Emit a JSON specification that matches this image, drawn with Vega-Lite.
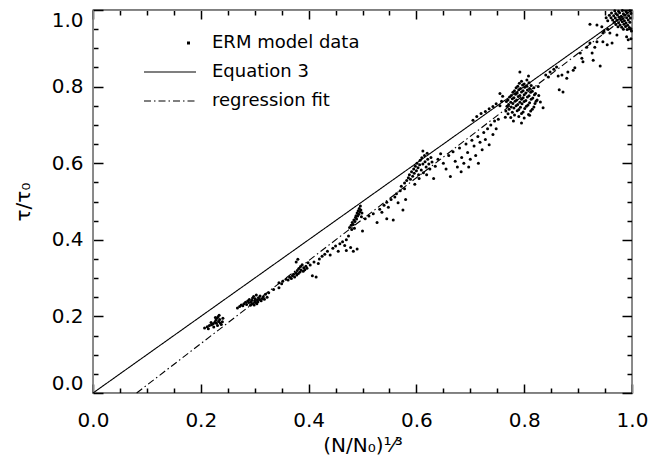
{
  "$schema": "https://vega.github.io/schema/vega-lite/v6.json",
  "width": 539,
  "height": 383,
  "autosize": "none",
  "padding": {"left": 93, "top": 10, "right": 31, "bottom": 65},
  "background": "white",
  "config": {"view": {"stroke": "black", "strokeWidth": 1.3}, "font": "DejaVu Sans"},
  "resolve": {"axis": {"x": "independent", "y": "independent"}},
  "datasets": {
    "pts": [
      {"x":0.207,"y":0.170},{"x":0.212,"y":0.173},{"x":0.216,"y":0.176},{"x":0.214,"y":0.168},{"x":0.220,"y":0.178},{"x":0.223,"y":0.181},{"x":0.226,"y":0.185},{"x":0.228,"y":0.190},{"x":0.230,"y":0.195},{"x":0.232,"y":0.199},{"x":0.229,"y":0.182},{"x":0.233,"y":0.187},{"x":0.235,"y":0.192},{"x":0.231,"y":0.176},{"x":0.236,"y":0.183},{"x":0.238,"y":0.179},{"x":0.240,"y":0.186},{"x":0.234,"y":0.203},{"x":0.227,"y":0.197},{"x":0.224,"y":0.172},{"x":0.219,"y":0.184},{"x":0.241,"y":0.195},
      {"x":0.268,"y":0.222},{"x":0.272,"y":0.226},{"x":0.275,"y":0.230},{"x":0.278,"y":0.228},{"x":0.280,"y":0.233},{"x":0.283,"y":0.237},{"x":0.285,"y":0.231},{"x":0.287,"y":0.240},{"x":0.289,"y":0.236},{"x":0.290,"y":0.244},{"x":0.292,"y":0.229},{"x":0.293,"y":0.238},{"x":0.295,"y":0.242},{"x":0.296,"y":0.248},{"x":0.297,"y":0.234},{"x":0.298,"y":0.252},{"x":0.300,"y":0.240},{"x":0.301,"y":0.246},{"x":0.302,"y":0.236},{"x":0.303,"y":0.256},{"x":0.305,"y":0.243},{"x":0.306,"y":0.238},{"x":0.307,"y":0.249},{"x":0.309,"y":0.244},{"x":0.310,"y":0.253},{"x":0.312,"y":0.241},{"x":0.314,"y":0.247},{"x":0.316,"y":0.251},{"x":0.318,"y":0.245},{"x":0.320,"y":0.258},{"x":0.323,"y":0.250},{"x":0.326,"y":0.262},{"x":0.294,"y":0.232},{"x":0.299,"y":0.230},{"x":0.304,"y":0.233},
      {"x":0.335,"y":0.270},{"x":0.345,"y":0.275},{"x":0.350,"y":0.285},
      {"x":0.345,"y":0.288},{"x":0.352,"y":0.292},{"x":0.358,"y":0.297},{"x":0.362,"y":0.295},{"x":0.365,"y":0.302},{"x":0.368,"y":0.299},{"x":0.370,"y":0.306},{"x":0.372,"y":0.310},{"x":0.374,"y":0.303},{"x":0.376,"y":0.314},{"x":0.378,"y":0.308},{"x":0.379,"y":0.320},{"x":0.381,"y":0.312},{"x":0.382,"y":0.325},{"x":0.384,"y":0.316},{"x":0.385,"y":0.330},{"x":0.386,"y":0.321},{"x":0.388,"y":0.335},{"x":0.390,"y":0.318},{"x":0.391,"y":0.327},{"x":0.393,"y":0.322},{"x":0.395,"y":0.331},{"x":0.397,"y":0.326},{"x":0.399,"y":0.340},{"x":0.403,"y":0.334},{"x":0.407,"y":0.306},{"x":0.410,"y":0.342},{"x":0.414,"y":0.303},{"x":0.418,"y":0.338},{"x":0.377,"y":0.342},{"x":0.380,"y":0.349},
      {"x":0.420,"y":0.350},{"x":0.425,"y":0.357},{"x":0.430,"y":0.362},{"x":0.435,"y":0.370},{"x":0.440,"y":0.360},{"x":0.445,"y":0.378},{"x":0.450,"y":0.384},{"x":0.455,"y":0.370},{"x":0.458,"y":0.390},{"x":0.463,"y":0.395},{"x":0.467,"y":0.385},{"x":0.470,"y":0.400},{"x":0.474,"y":0.410},{"x":0.478,"y":0.380},{"x":0.483,"y":0.370},{"x":0.470,"y":0.372},{"x":0.490,"y":0.376},
      {"x":0.476,"y":0.432},{"x":0.479,"y":0.438},{"x":0.481,"y":0.445},{"x":0.483,"y":0.440},{"x":0.484,"y":0.452},{"x":0.486,"y":0.448},{"x":0.487,"y":0.458},{"x":0.488,"y":0.463},{"x":0.489,"y":0.454},{"x":0.490,"y":0.470},{"x":0.491,"y":0.462},{"x":0.492,"y":0.476},{"x":0.493,"y":0.467},{"x":0.494,"y":0.482},{"x":0.495,"y":0.473},{"x":0.496,"y":0.488},{"x":0.497,"y":0.478},{"x":0.498,"y":0.460},{"x":0.485,"y":0.430},{"x":0.499,"y":0.470},{"x":0.480,"y":0.427},{"x":0.500,"y":0.423},
      {"x":0.505,"y":0.455},{"x":0.512,"y":0.462},{"x":0.520,"y":0.468},{"x":0.527,"y":0.445},{"x":0.532,"y":0.480},{"x":0.536,"y":0.472},{"x":0.540,"y":0.490},{"x":0.545,"y":0.498},{"x":0.548,"y":0.485},{"x":0.553,"y":0.505},{"x":0.557,"y":0.452},{"x":0.560,"y":0.512},{"x":0.563,"y":0.520},{"x":0.566,"y":0.497},{"x":0.570,"y":0.528},{"x":0.572,"y":0.540},{"x":0.575,"y":0.478},{"x":0.578,"y":0.533},{"x":0.580,"y":0.505},{"x":0.545,"y":0.455},
      {"x":0.578,"y":0.548},{"x":0.582,"y":0.555},{"x":0.585,"y":0.562},{"x":0.587,"y":0.570},{"x":0.589,"y":0.558},{"x":0.591,"y":0.578},{"x":0.593,"y":0.566},{"x":0.595,"y":0.585},{"x":0.596,"y":0.574},{"x":0.598,"y":0.592},{"x":0.600,"y":0.580},{"x":0.601,"y":0.600},{"x":0.603,"y":0.588},{"x":0.604,"y":0.570},{"x":0.606,"y":0.596},{"x":0.607,"y":0.608},{"x":0.609,"y":0.582},{"x":0.610,"y":0.614},{"x":0.612,"y":0.598},{"x":0.613,"y":0.575},{"x":0.615,"y":0.620},{"x":0.616,"y":0.604},{"x":0.618,"y":0.590},{"x":0.620,"y":0.626},{"x":0.621,"y":0.610},{"x":0.623,"y":0.598},{"x":0.625,"y":0.585},{"x":0.627,"y":0.615},{"x":0.629,"y":0.603},{"x":0.632,"y":0.560},{"x":0.635,"y":0.592},{"x":0.612,"y":0.632},{"x":0.605,"y":0.560},{"x":0.597,"y":0.545},{"x":0.619,"y":0.570},
      {"x":0.640,"y":0.610},{"x":0.645,"y":0.625},{"x":0.650,"y":0.600},{"x":0.655,"y":0.585},{"x":0.660,"y":0.620},{"x":0.663,"y":0.565},{"x":0.668,"y":0.630},{"x":0.672,"y":0.605},{"x":0.676,"y":0.590},{"x":0.680,"y":0.640},{"x":0.684,"y":0.615},{"x":0.688,"y":0.600},{"x":0.692,"y":0.650},{"x":0.695,"y":0.628},{"x":0.700,"y":0.610},{"x":0.703,"y":0.660},{"x":0.707,"y":0.645},{"x":0.710,"y":0.620},{"x":0.714,"y":0.670},{"x":0.718,"y":0.655},{"x":0.722,"y":0.635},{"x":0.725,"y":0.680},{"x":0.728,"y":0.662},{"x":0.732,"y":0.690},{"x":0.735,"y":0.648},{"x":0.738,"y":0.700},{"x":0.742,"y":0.675},{"x":0.745,"y":0.710},{"x":0.748,"y":0.690},{"x":0.752,"y":0.715},{"x":0.697,"y":0.590},{"x":0.683,"y":0.578},{"x":0.715,"y":0.600},
      {"x":0.705,"y":0.712},{"x":0.712,"y":0.722},{"x":0.720,"y":0.730},{"x":0.728,"y":0.735},{"x":0.735,"y":0.742},{"x":0.742,"y":0.748},{"x":0.748,"y":0.755},{"x":0.755,"y":0.750},{"x":0.758,"y":0.762},
      {"x":0.775,"y":0.719},{"x":0.790,"y":0.722},{"x":0.800,"y":0.718},
      {"x":0.770,"y":0.729},{"x":0.782,"y":0.726},{"x":0.795,"y":0.730},{"x":0.808,"y":0.727},
      {"x":0.766,"y":0.736},{"x":0.778,"y":0.733},{"x":0.787,"y":0.737},{"x":0.798,"y":0.734},{"x":0.812,"y":0.736},
      {"x":0.772,"y":0.741},{"x":0.781,"y":0.744},{"x":0.790,"y":0.740},{"x":0.801,"y":0.743},{"x":0.815,"y":0.741},
      {"x":0.768,"y":0.749},{"x":0.776,"y":0.747},{"x":0.785,"y":0.750},{"x":0.793,"y":0.746},{"x":0.804,"y":0.749},{"x":0.818,"y":0.747},
      {"x":0.771,"y":0.753},{"x":0.779,"y":0.756},{"x":0.788,"y":0.753},{"x":0.796,"y":0.755},{"x":0.807,"y":0.752},{"x":0.820,"y":0.756},
      {"x":0.767,"y":0.761},{"x":0.775,"y":0.759},{"x":0.783,"y":0.762},{"x":0.792,"y":0.759},{"x":0.800,"y":0.761},{"x":0.810,"y":0.758},{"x":0.822,"y":0.762},
      {"x":0.770,"y":0.765},{"x":0.778,"y":0.768},{"x":0.786,"y":0.765},{"x":0.795,"y":0.767},{"x":0.803,"y":0.764},{"x":0.813,"y":0.767},{"x":0.824,"y":0.765},
      {"x":0.773,"y":0.773},{"x":0.781,"y":0.771},{"x":0.789,"y":0.774},{"x":0.798,"y":0.771},{"x":0.806,"y":0.773},{"x":0.816,"y":0.770},
      {"x":0.776,"y":0.777},{"x":0.784,"y":0.780},{"x":0.792,"y":0.777},{"x":0.800,"y":0.779},{"x":0.809,"y":0.776},{"x":0.819,"y":0.779},{"x":0.827,"y":0.777},
      {"x":0.779,"y":0.785},{"x":0.787,"y":0.783},{"x":0.795,"y":0.786},{"x":0.803,"y":0.783},{"x":0.812,"y":0.785},{"x":0.821,"y":0.782},
      {"x":0.782,"y":0.789},{"x":0.790,"y":0.792},{"x":0.798,"y":0.789},{"x":0.806,"y":0.791},{"x":0.815,"y":0.788},
      {"x":0.785,"y":0.797},{"x":0.793,"y":0.795},{"x":0.801,"y":0.798},{"x":0.810,"y":0.795},{"x":0.818,"y":0.797},
      {"x":0.788,"y":0.801},{"x":0.797,"y":0.804},{"x":0.805,"y":0.801},{"x":0.813,"y":0.803},
      {"x":0.791,"y":0.809},{"x":0.800,"y":0.807},{"x":0.809,"y":0.810},
      {"x":0.795,"y":0.814},{"x":0.805,"y":0.817},
      {"x":0.792,"y":0.838},{"x":0.760,"y":0.775},{"x":0.755,"y":0.782},{"x":0.830,"y":0.760},{"x":0.835,"y":0.745},{"x":0.826,"y":0.800},{"x":0.780,"y":0.710},{"x":0.795,"y":0.705},{"x":0.810,"y":0.725},{"x":0.765,"y":0.720},{"x":0.808,"y":0.828},
      {"x":0.922,"y":0.963},{"x":0.935,"y":0.961},{"x":0.944,"y":0.956},{"x":0.946,"y":0.940},{"x":0.959,"y":0.940},{"x":0.972,"y":0.935},{"x":0.993,"y":0.922},{"x":0.935,"y":0.917},{"x":0.946,"y":0.917},{"x":0.922,"y":0.914},{"x":0.954,"y":0.909},{"x":0.963,"y":0.914},{"x":0.931,"y":0.903},{"x":0.916,"y":0.903},{"x":0.904,"y":0.888},{"x":0.907,"y":0.874},{"x":0.926,"y":0.888},{"x":0.928,"y":0.869},{"x":0.909,"y":0.865},{"x":0.894,"y":0.849},{"x":0.941,"y":0.854},{"x":0.881,"y":0.838},{"x":0.870,"y":0.830},{"x":0.863,"y":0.828},{"x":0.891,"y":0.843},{"x":0.879,"y":0.822},{"x":0.872,"y":0.786},{"x":0.865,"y":0.792},{"x":0.840,"y":0.830},{"x":0.848,"y":0.838},{"x":0.855,"y":0.845},{"x":0.845,"y":0.825},{"x":0.860,"y":0.851},{"x":0.948,"y":0.945},{"x":0.955,"y":0.950},
      {"x":0.968,"y":0.998},{"x":0.975,"y":0.997},{"x":0.982,"y":0.999},{"x":0.989,"y":0.996},{"x":0.996,"y":0.998},
      {"x":0.962,"y":0.992},{"x":0.970,"y":0.991},{"x":0.977,"y":0.993},{"x":0.984,"y":0.990},{"x":0.991,"y":0.992},{"x":0.998,"y":0.991},
      {"x":0.958,"y":0.986},{"x":0.966,"y":0.985},{"x":0.973,"y":0.987},{"x":0.980,"y":0.984},{"x":0.987,"y":0.986},{"x":0.994,"y":0.985},
      {"x":0.961,"y":0.980},{"x":0.969,"y":0.979},{"x":0.976,"y":0.981},{"x":0.983,"y":0.978},{"x":0.990,"y":0.980},{"x":0.997,"y":0.979},
      {"x":0.964,"y":0.974},{"x":0.972,"y":0.973},{"x":0.979,"y":0.975},{"x":0.986,"y":0.972},{"x":0.993,"y":0.974},
      {"x":0.967,"y":0.968},{"x":0.975,"y":0.967},{"x":0.982,"y":0.969},{"x":0.989,"y":0.966},{"x":0.996,"y":0.968},
      {"x":0.970,"y":0.962},{"x":0.978,"y":0.961},{"x":0.985,"y":0.963},{"x":0.992,"y":0.960},
      {"x":0.974,"y":0.956},{"x":0.981,"y":0.955},{"x":0.988,"y":0.957},{"x":0.995,"y":0.954},
      {"x":0.984,"y":0.950},{"x":0.991,"y":0.949},{"x":0.998,"y":0.951},
      {"x":0.955,"y":0.972},{"x":0.952,"y":0.980},{"x":0.999,"y":0.945},{"x":0.990,"y":0.930},{"x":0.998,"y":0.925}
    ],
    "lines": [
      {"series":"Equation 3","x":0,"y":0},{"series":"Equation 3","x":1,"y":1},
      {"series":"regression fit","x":0.081,"y":0},{"series":"regression fit","x":1,"y":0.995}
    ]
  },
  "layer": [
    {
      "data": {"name": "pts"},
      "mark": {"type": "point", "shape": "circle", "filled": true, "size": 9, "opacity": 1, "color": "black"},
      "encoding": {
        "x": {"field": "x", "type": "quantitative", "scale": {"domain": [0, 1], "nice": false, "zero": false},
          "axis": {"orient": "bottom", "values": [0,0.05,0.1,0.15,0.2,0.25,0.3,0.35,0.4,0.45,0.5,0.55,0.6,0.65,0.7,0.75,0.8,0.85,0.9,0.95,1],
            "tickSize": {"condition": {"test": "abs(datum.value*5-round(datum.value*5))<0.001", "value": -9}, "value": -5},
            "labelExpr": "abs(datum.value*5-round(datum.value*5))<0.001 ? format(datum.value,'.1f') : ''",
            "labelPadding": 26, "labelFont": "DejaVu Sans", "labelFontSize": 20, "labelColor": "black", "labelFlush": false, "labelOverlap": false,
            "tickColor": "black", "tickWidth": 1.5, "grid": false,
            "title": "(N/N₀)¹⁄³", "titleFont": "DejaVu Sans", "titleFontSize": 20, "titleFontWeight": "normal", "titleColor": "black", "titlePadding": 1}},
        "y": {"field": "y", "type": "quantitative", "scale": {"domain": [0, 1], "nice": false, "zero": false},
          "axis": {"orient": "left", "values": [0,0.05,0.1,0.15,0.2,0.25,0.3,0.35,0.4,0.45,0.5,0.55,0.6,0.65,0.7,0.75,0.8,0.85,0.9,0.95,1],
            "tickSize": {"condition": {"test": "abs(datum.value*5-round(datum.value*5))<0.001", "value": -10}, "value": -5},
            "labelExpr": "abs(datum.value*5-round(datum.value*5))<0.001 ? format(datum.value,'.1f') : ''",
            "labelPadding": 20, "labelFont": "DejaVu Sans", "labelFontSize": 20, "labelColor": "black", "labelFlush": true, "labelOverlap": false,
            "tickColor": "black", "tickWidth": 1.5, "grid": false,
            "title": "τ/τ₀", "titleFont": "DejaVu Sans", "titleFontSize": 20, "titleFontWeight": "normal", "titleColor": "black", "titlePadding": 18}}
      }
    },
    {
      "data": {"name": "lines"},
      "mark": {"type": "line", "color": "black", "strokeWidth": 1.1},
      "encoding": {
        "x": {"field": "x", "type": "quantitative", "scale": {"domain": [0, 1], "nice": false, "zero": false},
          "axis": {"orient": "top", "values": [0,0.05,0.1,0.15,0.2,0.25,0.3,0.35,0.4,0.45,0.5,0.55,0.6,0.65,0.7,0.75,0.8,0.85,0.9,0.95,1],
            "tickSize": {"condition": {"test": "abs(datum.value*5-round(datum.value*5))<0.001", "value": -9}, "value": -5},
            "labels": false, "tickColor": "black", "tickWidth": 1.5, "grid": false, "title": null}},
        "y": {"field": "y", "type": "quantitative", "scale": {"domain": [0, 1], "nice": false, "zero": false},
          "axis": {"orient": "right", "values": [0,0.05,0.1,0.15,0.2,0.25,0.3,0.35,0.4,0.45,0.5,0.55,0.6,0.65,0.7,0.75,0.8,0.85,0.9,0.95,1],
            "tickSize": {"condition": {"test": "abs(datum.value*5-round(datum.value*5))<0.001", "value": -10}, "value": -5},
            "labels": false, "tickColor": "black", "tickWidth": 1.5, "grid": false, "title": null}},
        "strokeDash": {"field": "series", "type": "nominal",
          "scale": {"domain": ["ERM model data", "Equation 3", "regression fit"], "range": [[0, 43, 3, 100], [1, 0], [7, 3, 1.5, 3]]},
          "legend": {"orient": "none", "legendX": 68, "legendY": 24, "title": null, "padding": 0,
            "labelFont": "DejaVu Sans", "labelFontSize": 18, "labelColor": "black", "labelOffset": 33, "labelLimit": 300,
            "rowPadding": 11, "symbolType": "M-2,0H2", "symbolSize": 676, "symbolStrokeColor": "black", "symbolOpacity": 1,
            "encode": {"symbols": {"update": {"stroke": {"value": "black"}, "strokeCap": {"value": "butt"}, "strokeWidth": {"signal": "datum.value === 'ERM model data' ? 3 : 1.1"}, "opacity": {"value": 1}}}}}}
      }
    }
  ]
}
